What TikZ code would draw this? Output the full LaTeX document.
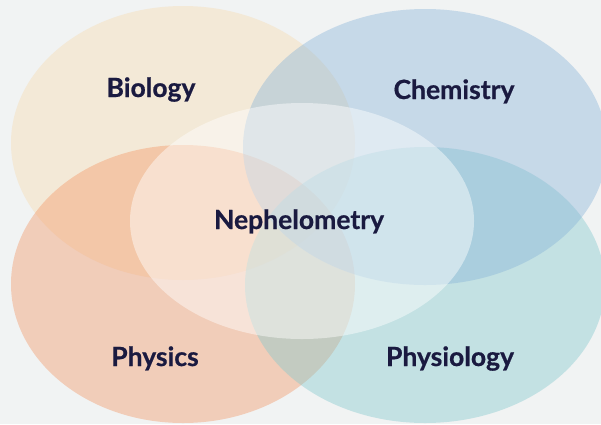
\documentclass[tikz,border=0pt]{standalone}
\usepackage{fontspec}
\setmainfont{Lato}[BoldFeatures={FakeBold=0.6}]
\definecolor{bgc}{HTML}{F1F3F3}
\definecolor{bioc}{HTML}{F6DAAF}
\definecolor{chemc}{HTML}{86B2D8}
\definecolor{physc}{HTML}{F39463}
\definecolor{physioc}{HTML}{80C8CD}
\definecolor{txtc}{HTML}{1A1A40}
\tikzset{
  lbl/.style={anchor=base, text=txtc, font=\fontsize{26.5}{30}\selectfont\bfseries, inner sep=0pt},
  blob/.style={fill opacity=0.4}
}
\begin{document}
\begin{tikzpicture}[x=1pt,y=-1pt]
\fill[bgc] (0,0) rectangle (601,424);
\useasboundingbox (0,0) rectangle (601,424);
\fill[bioc, blob] (183,143) ellipse [x radius=172pt, y radius=137pt];
\fill[physc, blob] (183,284) ellipse [x radius=172pt, y radius=139pt];
\fill[physioc, blob] (425,285) ellipse [x radius=180pt, y radius=138pt];
\fill[chemc, blob] (425,147) ellipse [x radius=182pt, y radius=138pt];
\fill[white, fill opacity=0.45] (302,221) ellipse [x radius=172pt, y radius=118pt];
\node[lbl] (bio) at (151,97) {Biology};
\node[lbl] (chem) at (454,99) {Chemistry};
\node[lbl] (neph) at (299,229) {Nephelometry};
\node[lbl] (phys) at (155,366) {Physics};
\node[lbl] (physio) at (450,366) {Physiology};
\end{tikzpicture}
\end{document}
